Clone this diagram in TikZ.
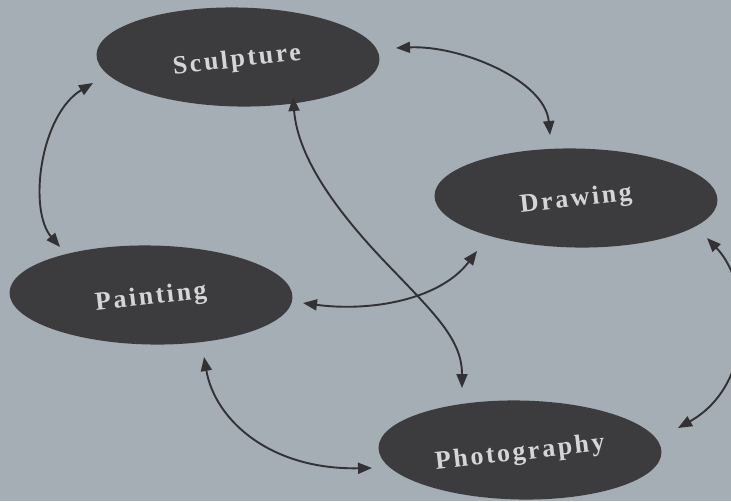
\documentclass[tikz,border=0pt]{standalone}
\usepackage{fontspec}
\setmainfont{Liberation Serif}
\newfontfamily\lblfont[LetterSpace=10]{Liberation Serif Bold}
\usetikzlibrary{arrows.meta,shapes.geometric}
\definecolor{bgcol}{RGB}{165,173,181}
\definecolor{ovalcol}{RGB}{60,60,62}
\definecolor{txtcol}{RGB}{212,214,214}
\definecolor{arrcol}{RGB}{50,50,52}
\tikzset{
  oval/.style={ellipse, fill=ovalcol, draw=none, inner sep=0pt, minimum width=283pt, minimum height=99pt},
  ovaltext/.style={text=txtcol, font=\fontsize{26}{29}\selectfont\lblfont, rotate=6.5, inner sep=0pt},
  link/.style={draw=arrcol, line width=1.9pt, {Triangle[length=14pt,width=11pt]}-{Triangle[length=14pt,width=11pt]}}
}
\begin{document}
\begin{tikzpicture}[x=1pt,y=-1pt]
\fill[bgcol] (0,0) rectangle (731,501);
\useasboundingbox (0,0) rectangle (731,501);
\node[oval, rotate=-1] (sc) at (238,57) {};
\node[oval, rotate=-1] (dr) at (576,198) {};
\node[oval, rotate=-1] (pa) at (151,295) {};
\node[oval, rotate=-1] (ph) at (520,450) {};
\node[ovaltext] (sct) at (237,61) {Sculpture};
\node[ovaltext] (drt) at (576,200) {Drawing};
\node[ovaltext] (pat) at (151,298) {Painting};
\node[ovaltext] (pht) at (520,454) {Photography};
% Sculpture - Drawing
\draw[link] ([shift={(158,-9)}]sc.center) .. controls ([shift={(222,-12)}]sc.center) and ([shift={(-31,-118)}]dr.center) .. ([shift={(-26,-63)}]dr.center);
% Sculpture - Painting
\draw[link] ([shift={(-145,26)}]sc.center) .. controls ([shift={(-198,58)}]sc.center) and ([shift={(-123,-85)}]pa.center) .. ([shift={(-91,-48)}]pa.center);
% Sculpture - Photography
\draw[link] ([shift={(55,40)}]sc.center) .. controls ([shift={(60,103)}]sc.center) and ([shift={(102,158)}]sc.center) .. ([shift={(150,208)}]sc.center)
  .. controls ([shift={(-84,-135)}]ph.center) and ([shift={(-58,-110)}]ph.center) .. ([shift={(-58,-62)}]ph.center);
% Painting - Drawing
\draw[link] ([shift={(152,8)}]pa.center) .. controls ([shift={(219,17)}]pa.center) and ([shift={(-136,102)}]dr.center) .. ([shift={(-99,53)}]dr.center);
% Painting - Photography
\draw[link] ([shift={(53,62)}]pa.center) .. controls ([shift={(64,125)}]pa.center) and ([shift={(-250,20)}]ph.center) .. ([shift={(-148,18)}]ph.center);
% Drawing - Photography
\draw[link] ([shift={(131,40)}]dr.center) .. controls ([shift={(176,87)}]dr.center) and ([shift={(235,-65)}]ph.center) .. ([shift={(158,-22)}]ph.center);
\end{tikzpicture}
\end{document}
